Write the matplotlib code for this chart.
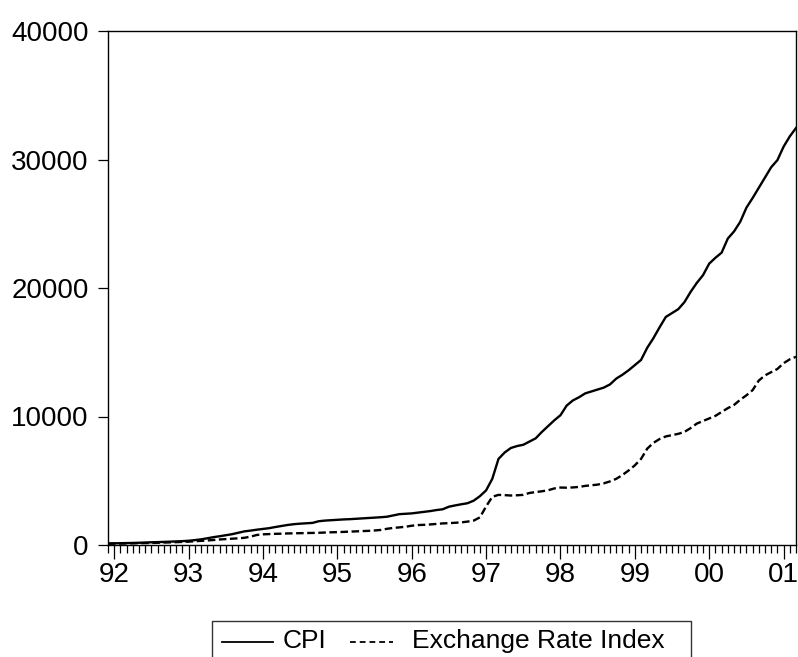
import numpy as np
import matplotlib
matplotlib.use("Agg")
import matplotlib.pyplot as plt
from matplotlib.lines import Line2D
from matplotlib.patches import Rectangle

plt.rcParams['font.family'] = ['Liberation Sans', 'DejaVu Sans']

# monthly data, 1991M12 .. 2001M3
cpi = [120, 130, 140, 150, 160, 175, 190, 210, 225, 240, 260, 280, 300,
       330, 380, 440, 520, 610, 680, 760, 840, 950, 1060, 1120, 1190,
       1250, 1310, 1400, 1480, 1560, 1620, 1660, 1690, 1720, 1850, 1900, 1930,
       1960, 1990, 2010, 2040, 2070, 2100, 2130, 2160, 2200, 2300, 2400, 2430,
       2460, 2520, 2580, 2640, 2720, 2780, 2980, 3080, 3170, 3250, 3450, 3800,
       4250, 5150, 6700, 7200, 7550, 7700, 7800, 8050, 8300, 8800, 9250, 9700,
       10100, 10850, 11250, 11500, 11800, 11950, 12100, 12250, 12500, 12950, 13250, 13600,
       14000, 14400, 15350, 16100, 16950, 17750, 18050, 18350, 18900, 19700, 20400, 21000,
       21900, 22350, 22750, 23850, 24400, 25150, 26250, 27000, 27800, 28600, 29400, 29950,
       31000, 31800, 32450]
exr = [100, 105, 110, 120, 130, 140, 150, 160, 175, 190, 205, 220, 240,
       260, 290, 320, 350, 390, 430, 460, 490, 520, 560, 650, 780,
       830, 850, 870, 880, 900, 910, 920, 930, 940, 950, 970, 990,
       1000, 1020, 1040, 1060, 1080, 1100, 1130, 1170, 1260, 1330, 1370, 1420,
       1500, 1550, 1570, 1600, 1640, 1680, 1700, 1730, 1760, 1820, 1900, 2150,
       3000, 3750, 3900, 3880, 3850, 3870, 3900, 4050, 4120, 4180, 4260, 4400,
       4470, 4460, 4480, 4520, 4600, 4650, 4700, 4800, 4950, 5150, 5450, 5800,
       6200, 6700, 7500, 7950, 8250, 8450, 8550, 8650, 8800, 9100, 9450, 9650,
       9850, 10050, 10350, 10650, 10900, 11300, 11650, 12050, 12800, 13200, 13450, 13700,
       14150, 14450, 14650]
years = ["92", "93", "94", "95", "96", "97", "98", "99", "00", "01"]

W, H = 798, 657
fig = plt.figure(figsize=(W / 100, H / 100), dpi=100)
ax = fig.add_axes([108 / W, 112 / H, 688 / W, 514 / H])

t = np.arange(len(cpi))
ax.plot(t, cpi, color="black", lw=1.7, solid_joinstyle="round")
ax.plot(t, exr, color="black", lw=1.7, ls=(0, (3.2, 1.5)))

ax.set_xlim(0, len(cpi) - 1)
ax.set_ylim(0, 40000)
ax.set_yticks([0, 10000, 20000, 30000, 40000])
ax.set_xticks(np.arange(1, len(cpi), 12))   # January of each year
ax.set_xticklabels(years)
ax.set_xticks(t, minor=True)

for s in ax.spines.values():
    s.set_linewidth(1.0)
ax.tick_params(axis="y", length=7, width=0.9, pad=7, labelsize=20)
ax.tick_params(axis="x", which="major", length=10, width=0.9, pad=2.5, labelsize=20)
ax.tick_params(axis="x", which="minor", length=6, width=0.9)

# legend box like the original, cut by the bottom edge
fx = lambda px: px / W
fy = lambda py: 1 - py / H
fig.add_artist(Rectangle((fx(212), fy(690)), (691 - 212) / W, (690 - 621) / H,
                         transform=fig.transFigure, fill=False, lw=1, ec="#333333"))
fig.add_artist(Line2D([fx(222), fx(273)], [fy(642)] * 2, transform=fig.transFigure,
                      color="black", lw=1.3))
fig.add_artist(Line2D([fx(350), fx(393)], [fy(642)] * 2, transform=fig.transFigure,
                      color="black", lw=1.3, ls=(0, (3.2, 2.2))))
fig.text(fx(283), fy(641), "CPI", fontsize=19, ha="left", va="center")
fig.text(fx(412), fy(641), "Exchange Rate Index", fontsize=19, ha="left", va="center")

fig.savefig("out.png", dpi=100)
